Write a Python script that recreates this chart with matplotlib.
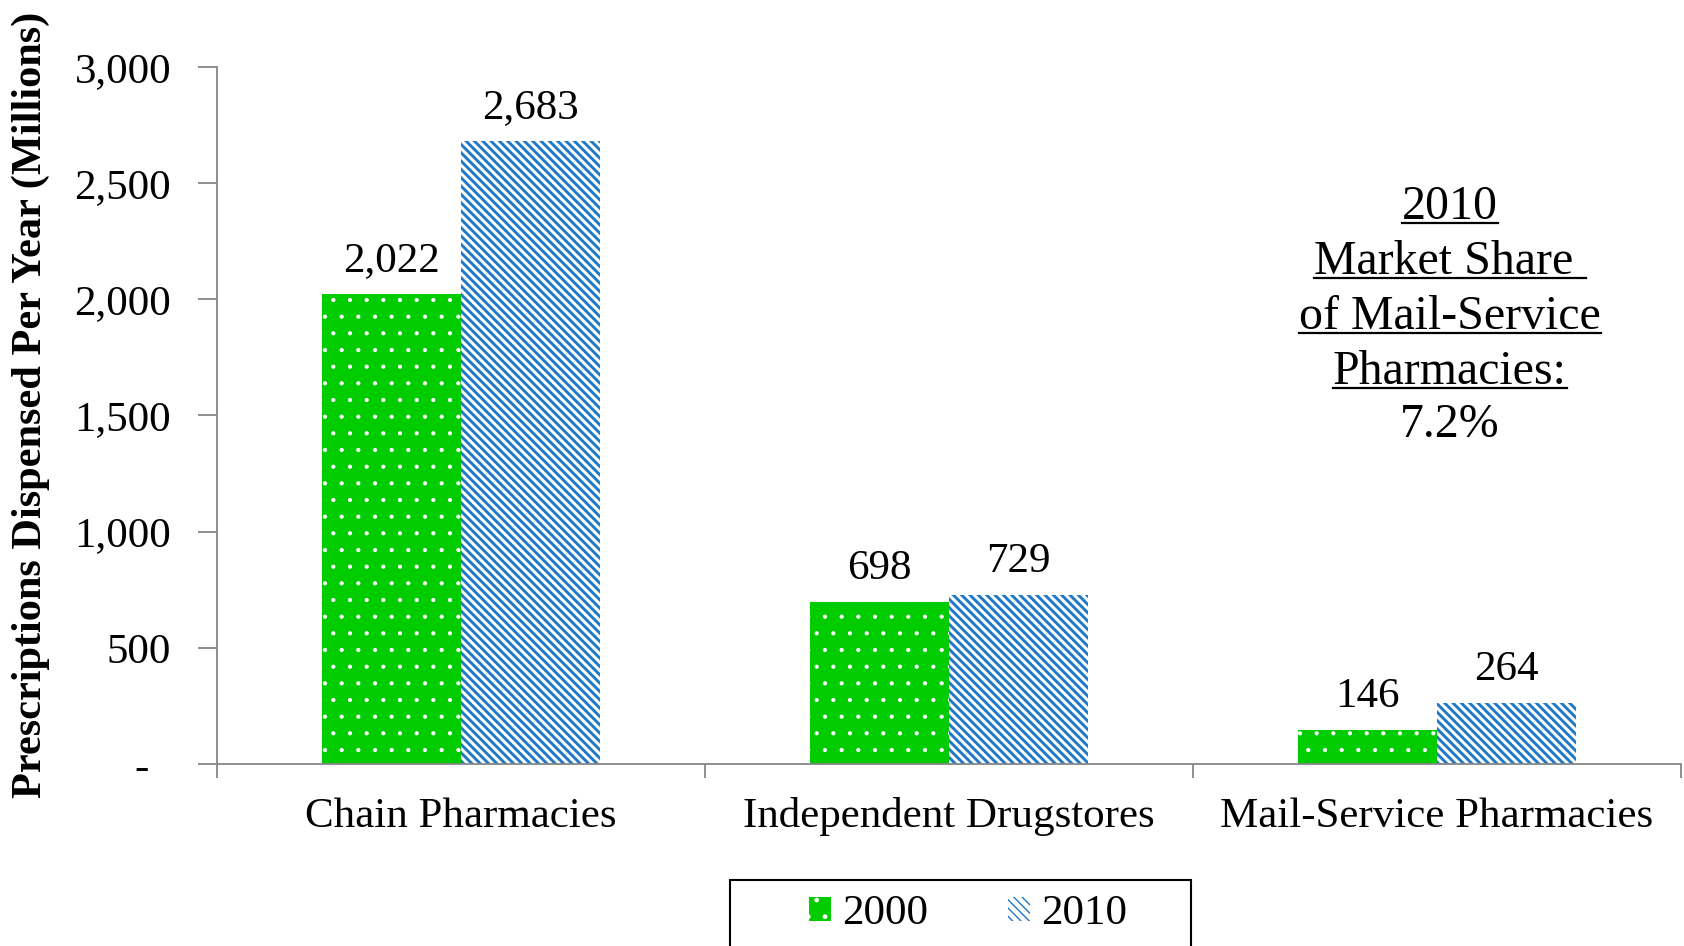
import numpy as np
import matplotlib
matplotlib.use("Agg")
import matplotlib.pyplot as plt
from matplotlib.lines import Line2D
from matplotlib.patches import Rectangle

plt.rcParams['font.family'] = ['Liberation Serif', 'DejaVu Serif']

categories = ["Chain Pharmacies", "Independent Drugstores", "Mail-Service Pharmacies"]
years = ["2000", "2010"]
rx_2000 = [2022, 698, 146]
rx_2010 = [2683, 729, 264]
yticks = [0, 500, 1000, 1500, 2000, 2500, 3000]
ytick_labels = ["-  ", "500", "1,000", "1,500", "2,000", "2,500", "3,000"]
note_lines = ["2010", "Market Share ", "of Mail-Service", "Pharmacies:", "7.2%"]
note_underlined = [True, True, True, True, False]

W, H = 1684, 946
fig = plt.figure(figsize=(W / 100, H / 100), dpi=100)
ax = fig.add_axes([217 / W, 182 / H, (1681 - 217) / W, (764 - 67) / H])

x = np.arange(len(categories))
bw = 0.284
green = "#00CC00"
blue = "#1F78C8"

with plt.rc_context({'hatch.linewidth': 0.6}):
    b1 = ax.bar(x - bw / 2, rx_2000, bw, color=green, edgecolor="white",
                linewidth=0, hatch=".", label=years[0])
with plt.rc_context({'hatch.linewidth': 2.1}):
    b2 = ax.bar(x + bw / 2, rx_2010, bw, color="white", edgecolor=blue,
                linewidth=0, hatch="\\" * 4, label=years[1])

ax.bar_label(b1, labels=[f"{v:,}" for v in rx_2000], padding=10, fontsize=31)
ax.bar_label(b2, labels=[f"{v:,}" for v in rx_2010], padding=10, fontsize=31)

ax.set_xlim(-0.5, 2.5)
ax.set_ylim(0, 3000)
ax.set_yticks(yticks)
ax.set_yticklabels(ytick_labels, fontsize=31)
ax.set_xticks(x)
ax.set_xticklabels(categories, fontsize=31)
ax.set_xticks([-0.5, 0.5, 1.5, 2.5], minor=True)
ax.tick_params(axis='x', which='major', length=0, pad=24)
ax.tick_params(axis='x', which='minor', length=10, width=1.3, color="#868686", direction='out')
ax.tick_params(axis='y', length=14, width=1.3, color="#868686", pad=19)

for s in ["top", "right"]:
    ax.spines[s].set_visible(False)
for s in ["left", "bottom"]:
    ax.spines[s].set_color("#868686")
    ax.spines[s].set_linewidth(1.3)

ax.set_ylabel("Prescriptions Dispensed Per Year (Millions)", fontsize=30.5,
              fontweight="bold")
ax.yaxis.set_label_coords(-(217 - 50) / (1681 - 217), 0.515)

leg = fig.legend(loc="center", bbox_to_anchor=(968 / W, 1 - 914 / H),
                 ncol=2, fontsize=31, frameon=False,
                 handlelength=0.5, handleheight=0.5, handletextpad=0.26,
                 columnspacing=1.86, borderpad=0, borderaxespad=0)
fig.add_artist(Rectangle((730 / W, -0.05), (1191 - 730) / W, 0.05 + (946 - 880) / H,
                         transform=fig.transFigure, facecolor="none",
                         edgecolor="black", linewidth=1.5, zorder=0))

baselines = [219, 274, 329, 384, 437]
texts = []
for line, yb in zip(note_lines, baselines):
    t = fig.text(1450 / W, 1 - yb / H, line, ha="center", va="baseline", fontsize=34.5)
    texts.append(t)

fig.canvas.draw()
r = fig.canvas.get_renderer()
for t, yb, ul in zip(texts, baselines, note_underlined):
    if not ul:
        continue
    bb = t.get_window_extent(r)
    yy = 1 - (yb + 4) / H
    fig.add_artist(Line2D([bb.x0 / W, bb.x1 / W], [yy, yy], color="black",
                          linewidth=1.6, transform=fig.transFigure))

fig.savefig("out.png", dpi=100)
